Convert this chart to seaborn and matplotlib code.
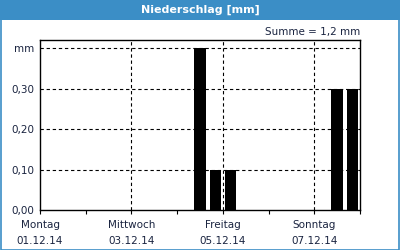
import matplotlib
matplotlib.use("Agg")
import matplotlib.pyplot as plt
import seaborn as sns
import pandas as pd
from matplotlib.patches import Rectangle

# data: hours since Monday 01.12.14 00:00 (8h bins, bar at bin centre)
hours = [84, 92, 100, 156, 164]
values = [0.4, 0.1, 0.1, 0.3, 0.3]
day_names = ["Montag", "Mittwoch", "Freitag", "Sonntag"]
day_dates = ["01.12.14", "03.12.14", "05.12.14", "07.12.14"]
y_ticks = [0.0, 0.1, 0.2, 0.3, 0.4]
y_labels = ["0,00", "0,10", "0,20", "0,30", "mm"]
title = "Niederschlag [mm]"
summary = "Summe = 1,2 mm"

sns.set_theme(style="white")
plt.rcParams['font.family'] = ['DejaVu Sans']

blue = "#3b8ec6"
txt = "#1a2440"

fig = plt.figure(figsize=(4, 2.5), dpi=100)
fig.patch.set_facecolor("white")
ax = fig.add_axes([0.1, 0.16, 0.8, 0.68])

df = pd.DataFrame({"h": hours, "v": values})
sns.barplot(data=df, x="h", y="v", native_scale=True, width=0.75,
            color="black", saturation=1, errorbar=None, ax=ax)
for p in ax.patches:
    p.set_edgecolor("none")

ax.set_xlim(0, 168)
ax.set_ylim(0, 0.42)
ax.set_xticks([0, 48, 96, 144])
ax.set_xticklabels([f"{n}\n{d}" for n, d in zip(day_names, day_dates)],
                   fontsize=7.5, color=txt, linespacing=1.75)
ax.set_xticks([24, 72, 120, 168], minor=True)
ax.set_yticks(y_ticks)
ax.set_yticklabels(y_labels, fontsize=7.5, color=txt)
ax.tick_params(axis="x", which="both", direction="out", length=3, width=0.8,
               color="black", bottom=True, pad=4)
ax.tick_params(axis="y", length=0, pad=4)
ax.set_xlabel("")
ax.set_ylabel("")

for y in y_ticks[1:]:
    ax.axhline(y, color="black", lw=0.8, ls=(0, (3, 2.5)), zorder=0.5)
for x in [48, 96, 144]:
    ax.axvline(x, color="black", lw=0.8, ls=(0, (3, 2.5)), zorder=0.5)

for s in ax.spines.values():
    s.set_color("black")
    s.set_linewidth(1.0)
    s.set_visible(True)

# header band and border
fig.patches.append(Rectangle((0, 0.92), 1, 0.08, transform=fig.transFigure,
                             facecolor=blue, edgecolor="none", zorder=-1))
fig.patches.append(Rectangle((0.0015, 0.002), 0.997, 0.996, transform=fig.transFigure,
                             facecolor="none", edgecolor=blue, lw=1.2, zorder=5))
fig.text(0.5, 0.96, title, ha="center", va="center", color="white",
         fontsize=8, fontweight="bold")
fig.text(0.9, 0.872, summary, ha="right", va="center", color=txt, fontsize=7.5)

fig.savefig("out.png", dpi=100)
